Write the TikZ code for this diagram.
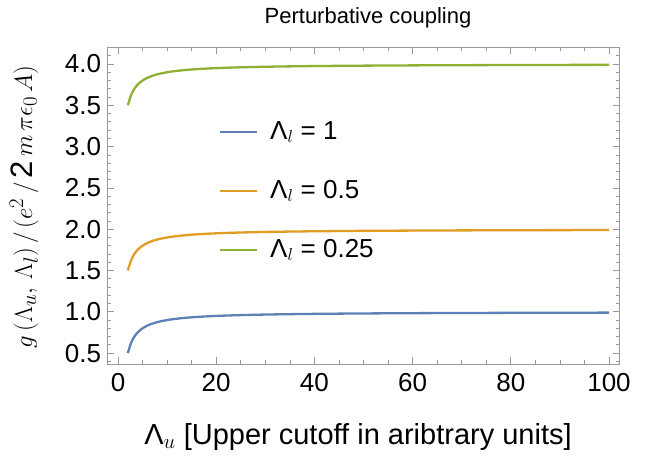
\documentclass[tikz,border=0pt]{standalone}
\usepackage{fontspec}
\setmainfont{Liberation Sans}
\begin{document}
\begin{tikzpicture}[x=1pt,y=1pt,
  fr/.style={draw=gray!80,line width=0.7pt},
  curve/.style={line width=2.3pt},
  lab/.style={font=\fontsize{26}{28}\selectfont,inner sep=1pt}]
\definecolor{cb}{rgb}{0.368,0.507,0.710}
\definecolor{co}{rgb}{0.881,0.611,0.142}
\definecolor{cg}{rgb}{0.560,0.692,0.195}
\useasboundingbox (0,0) rectangle (664,-458);
\node[font=\fontsize{22}{24}\selectfont] (title) at (368,-18) {Perturbative coupling};
\begin{scope}[shift={(118,-394.4)},x=4.91pt,y=82.6pt]
  \draw[fr] (-2.25,0.365) rectangle (102.2,4.203);
  \foreach \t in {0,5,...,100}{
    \pgfmathsetmacro\len{mod(\t,20)==0?7:4}
    \draw[fr] (\t,0.365) -- ++(0,\len pt);
    \draw[fr] (\t,4.203) -- ++(0,-\len pt);}
  \foreach \t in {4,...,42}{
    \pgfmathsetmacro\len{mod(\t,5)==0?7:4}
    \draw[fr] (-2.25,\t/10) -- ++(\len pt,0);
    \draw[fr] (102.2,\t/10) -- ++(-\len pt,0);}
  \foreach \t in {0,20,...,100} \node[lab,anchor=north] at (\t,0.27) {\t};
  \foreach \t in {0.5,1.0,1.5,2.0,2.5,3.0,3.5,4.0} \node[lab,anchor=east] at (-3.2,\t) {\t};
  \draw[curve,cb] plot[domain=2:100,samples=150,smooth] (\x,{1-1/\x});
  \draw[curve,co] plot[domain=2:100,samples=150,smooth] (\x,{2*(1-0.5/\x)});
  \draw[curve,cg] plot[domain=2:100,samples=150,smooth] (\x,{4*(1-0.25/\x)});
\end{scope}
\foreach \c/\yy/\v in {cb/132/1, co/191/0.5, cg/250/0.25}{
  \draw[curve,\c] (220,-\yy) -- (257,-\yy);
  \node[lab,anchor=west] at (269,-\yy) {Λ$_{l}$ = \v};}
\node[font=\fontsize{29}{31}\selectfont] (xl) at (358,-437) {Λ$_{u}$ [Upper cutoff in aribtrary units]};
\node[font=\fontsize{31}{33}\selectfont,rotate=90] (yl) at (24,-207) {$g\,(\Lambda_u,\,\Lambda_l)\,/\,(e^2\,/\,\mathrm{2}\,m\,\pi\epsilon_0\,A)$};
\end{tikzpicture}
\end{document}
